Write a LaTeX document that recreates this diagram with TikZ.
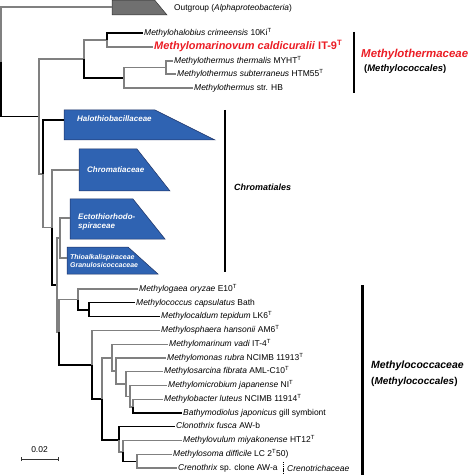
\documentclass[tikz,border=0pt]{standalone}
\usepackage{fontspec}
\setmainfont{Liberation Sans}
\definecolor{boxblue}{RGB}{47,99,178}
\definecolor{boxedge}{RGB}{30,50,100}
\definecolor{brgray}{RGB}{128,128,128}
\definecolor{ogray}{RGB}{112,112,112}
\definecolor{hired}{RGB}{235,28,36}
\newcommand{\Tsup}{\textsuperscript{T}}
\newcommand{\lfont}{\fontsize{8.5}{9}\selectfont}
\newcommand{\bfont}{\fontsize{8}{9.6}\selectfont\bfseries\itshape}
\newcommand{\sbfont}{\fontsize{7}{8.6}\selectfont\bfseries\itshape}
\begin{document}
\begin{tikzpicture}[x=1bp,y=-1bp,
  gb/.style={line width=1.2bp, brgray},
  kb/.style={line width=1.2bp, black},
  leaf/.style={anchor=west, inner sep=1bp, font=\lfont, text height=6.2bp, text depth=1.8bp},
  boxshape/.style={fill=boxblue, draw=boxedge, line width=0.5bp},
  boxlab/.style={text=white, align=left, anchor=west, inner sep=0pt},
  grp/.style={anchor=west, inner sep=0pt, font=\bfseries},
  bar/.style={line width=2.6bp, black}]
\useasboundingbox (0,0) rectangle (468,475);

% ---------- collapsed clades ----------
\filldraw[fill=ogray, draw=black!80, line width=0.5bp] (112,0.5) -- (155,0.5) -- (167,15) -- (112,15) -- cycle;
\coordinate (og) at (112,7);
\node[anchor=west, inner sep=0pt, font=\fontsize{8.4}{10}\selectfont] (oglab) at (174,8) {Outgroup (\textit{Alphaproteobacteria})};

\filldraw[boxshape] (64,110) -- (155,110) -- (215,140) -- (64,140) -- cycle;
\coordinate (halo) at (64,120);
\node[boxlab, font=\bfont] (halolab) at (77,119) {Halothiobacillaceae};

\filldraw[boxshape] (79,149) -- (137,149) -- (170,191) -- (79,191) -- cycle;
\coordinate (chrom) at (79,170);
\node[boxlab, font=\bfont] (chromlab) at (87,170) {Chromatiaceae};

\filldraw[boxshape] (70,199) -- (133,199) -- (165,239) -- (70,239) -- cycle;
\coordinate (ecto) at (70,218);
\node[boxlab, font=\bfont] (ectolab) at (78,222) {Ectothiorhodo-\\spiraceae};

\filldraw[boxshape] (67,247) -- (128,247) -- (158,274) -- (67,274) -- cycle;
\coordinate (thio) at (67,258);
\node[boxlab, font=\sbfont] (thiolab) at (70,261) {Thioalkalispiraceae\\Granulosicoccaceae};

% ---------- internal nodes ----------
\coordinate (root) at (1,62);
\coordinate (n39) at (39,116.5);
\coordinate (n84) at (84,59);
\coordinate (n107) at (107,40);
\coordinate (n124) at (124,78);
\coordinate (n166) at (166,67.5);
\coordinate (n43) at (43,174);
\coordinate (n52) at (52,227.5);
\coordinate (n57) at (57,285);
\coordinate (n60) at (60,238);
\coordinate (n59) at (59,332);
\coordinate (n78) at (78,299.5);
\coordinate (n89) at (89,310);
\coordinate (n92) at (92,365);
\coordinate (n102) at (102,399);
\coordinate (n112) at (112,358);
\coordinate (n116) at (116,371);
\coordinate (n126) at (126,384);
\coordinate (n130) at (130,396.5);
\coordinate (n133) at (133,407);
\coordinate (n119) at (119,440);
\coordinate (n123) at (123,452);
\coordinate (n137) at (137,461.5);

% ---------- leaves ----------
\node[leaf] (mhal) at (143,33) {\textit{Methylohalobius crimeensis} 10Ki\Tsup};
\node[anchor=west, inner sep=1bp, text=hired, font=\fontsize{11}{12}\selectfont\bfseries, text height=8bp, text depth=2.4bp] (mmar) at (153,47) {\textit{Methylomarinovum caldicuralii} IT-9\Tsup};
\node[leaf] (mthe) at (173,61) {\textit{Methylothermus thermalis} MYHT\Tsup};
\node[leaf] (msub) at (176,74) {\textit{Methylothermus subterraneus} HTM55\Tsup};
\node[leaf] (mhb) at (193,88) {\textit{Methylothermus} str. HB};

\node[leaf] (mgaea) at (138,289) {\textit{Methylogaea oryzae} E10\Tsup};
\node[leaf] (mcoc) at (135,302.8) {\textit{Methylococcus capsulatus} Bath};
\node[leaf] (mcal) at (160,316.5) {\textit{Methylocaldum tepidum} LK6\Tsup};
\node[leaf] (msph) at (160,330.3) {\textit{Methylosphaera hansonii} AM6\Tsup};
\node[leaf] (mmarin) at (168,344.1) {\textit{Methylomarinum vadi} IT-4\Tsup};
\node[leaf] (mmon) at (166,357.9) {\textit{Methylomonas rubra} NCIMB 11913\Tsup};
\node[leaf] (msar) at (163,371.6) {\textit{Methylosarcina fibrata} AML-C10\Tsup};
\node[leaf] (mmic) at (167,385.4) {\textit{Methylomicrobium japanense} NI\Tsup};
\node[leaf] (mbac) at (163,399.2) {\textit{Methylobacter luteus} NCIMB 11914\Tsup};
\node[leaf] (bathy) at (182,412.9) {\textit{Bathymodiolus japonicus} gill symbiont};
\node[leaf] (clono) at (175,426.7) {\textit{Clonothrix fusca} AW-b};
\node[leaf] (movu) at (182,440.5) {\textit{Methylovulum miyakonense} HT12\Tsup};
\node[leaf] (mso) at (172,454.2) {\textit{Methylosoma difficile} LC 2\Tsup 50)};
\node[leaf] (creno) at (177,468) {\textit{Crenothrix} sp. clone AW-a};

% ---------- branches ----------
\draw[gb] (root) |- (og);
\draw[kb] (root) |- (n39);
\draw[gb] (n39) |- (n84);
\draw[gb] (n39) |- (n43);
\draw[gb] (n84) |- (n107);
\draw[kb] (n84) |- (n124);
\draw[kb] (n107) |- (mhal.west);
\draw[gb] (n107) |- (mmar.west);
\draw[gb] (n124) |- (n166);
\draw[gb] (n124) |- (mhb.west);
\draw[gb] (n166) |- (mthe.west);
\draw[gb] (n166) |- (msub.west);
\draw[kb] (n43) |- (halo);
\draw[gb] (n43) |- (n52);
\draw[gb] (n52) |- (chrom);
\draw[kb] (n52) |- (n57);
\draw[gb] (n57) |- (n60);
\draw[gb] (n57) |- (n59);
\draw[gb] (n60) |- (ecto);
\draw[gb] (n60) |- (thio);
\draw[gb] (n59) |- (n78);
\draw[kb] (n59) |- (n92);
\draw[gb] (n78) |- (mgaea.west);
\draw[kb] (n78) |- (n89);
\draw[kb] (n89) |- (mcoc.west);
\draw[kb] (n89) |- (mcal.west);
\draw[gb] (n92) |- (msph.west);
\draw[kb] (n92) |- (n102);
\draw[gb] (n102) |- (n112);
\draw[kb] (n102) |- (n119);
\draw[gb] (n112) |- (mmarin.west);
\draw[gb] (n112) |- (n116);
\draw[gb] (n116) |- (mmon.west);
\draw[gb] (n116) |- (n126);
\draw[gb] (n126) |- (msar.west);
\draw[gb] (n126) |- (n130);
\draw[gb] (n130) |- (mmic.west);
\draw[gb] (n130) |- (n133);
\draw[gb] (n133) |- (mbac.west);
\draw[kb] (n133) |- (bathy.west);
\draw[kb] (n119) |- (clono.west);
\draw[gb] (n119) |- (n123);
\draw[gb] (n123) |- (movu.west);
\draw[kb] (n123) |- (n137);
\draw[gb] (n137) |- (mso.west);
\draw[gb] (n137) |- (creno.west);

% ---------- group bars and labels ----------
\coordinate (b1t) at (354,32); \coordinate (b1b) at (354,93);
\draw[bar] (b1t) -- (b1b);
\node[grp, text=hired, font=\fontsize{11.5}{13}\selectfont\bfseries\itshape] (gmt) at (361,55) {Methylothermaceae};
\node[grp, font=\fontsize{9.5}{11}\selectfont\bfseries] (gmt2) at (364,69.5) {(\textit{Methylococcales})};

\coordinate (b2t) at (225,110); \coordinate (b2b) at (225,272);
\draw[line width=1.6bp, black] (b2t) -- (b2b);
\node[grp, font=\fontsize{9}{11}\selectfont\bfseries\itshape] (gch) at (234,187) {Chromatiales};

\coordinate (b3t) at (362,285); \coordinate (b3b) at (362,475);
\draw[line width=3bp, black] (b3t) -- (b3b);
\node[grp, font=\fontsize{10.5}{12}\selectfont\bfseries\itshape] (gmc) at (371,366) {Methylococcaceae};
\node[grp, font=\fontsize{10}{12}\selectfont\bfseries] (gmc2) at (371,382) {(\textit{Methylococcales})};

\node[anchor=west, inner sep=0pt, font=\lfont\itshape] (gcr) at (287,468) {Crenotrichaceae};
\coordinate (cdt) at (283.5,462); \coordinate (cdb) at (283.5,474);
\draw[line width=1.3bp, dash pattern=on 1.2bp off 0.9bp] (cdt) -- (cdb);

% ---------- scale bar ----------
\coordinate (sb1) at (21,459); \coordinate (sb2) at (58,459);
\draw[line width=0.9bp, black!80] (sb1) -- (sb2);
\draw[line width=0.9bp, black!80] ([yshift=-2bp]sb1) -- ([yshift=2bp]sb1);
\draw[line width=0.9bp, black!80] ([yshift=-2bp]sb2) -- ([yshift=2bp]sb2);
\node[inner sep=0pt, font=\fontsize{8.5}{10}\selectfont] (sbl) at (39.5,450) {0.02};
\end{tikzpicture}
\end{document}
